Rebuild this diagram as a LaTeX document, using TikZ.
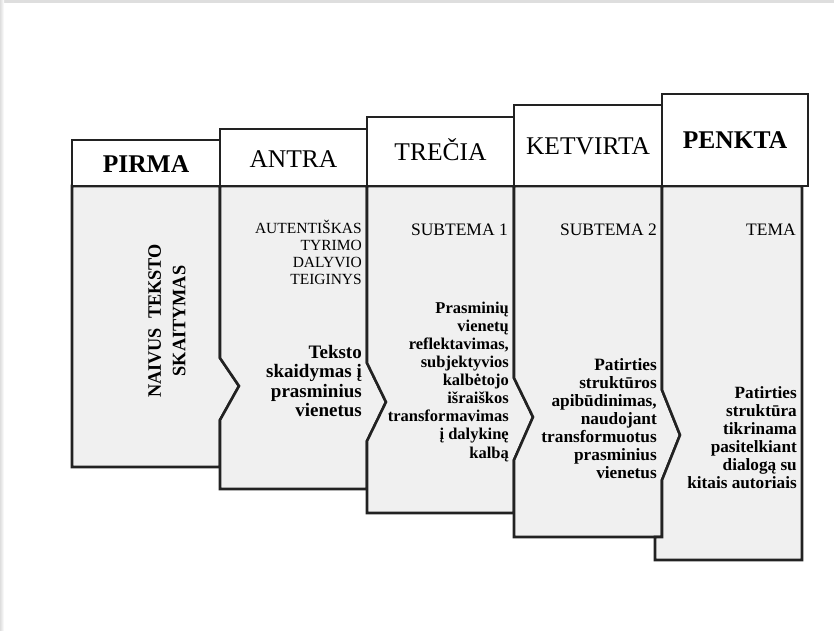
\documentclass[tikz,border=0pt]{standalone}
\usepackage{fontspec}
\usepackage{graphicx}
\setmainfont{Liberation Serif}
\definecolor{bodyfill}{RGB}{240,240,240}
\definecolor{edge}{RGB}{34,34,34}
\definecolor{frame}{RGB}{222,222,222}
\tikzset{
  colline/.style={draw=edge, line width=2.6pt, line join=miter},
  bodybox/.style={colline, fill=bodyfill},
  headbox/.style={colline, fill=white},
  headtext/.style={inner sep=0pt, anchor=base, font=\fontsize{25.5}{28}\selectfont},
  headbold/.style={headtext, font=\bfseries\fontsize{25.5}{28}\selectfont},
  captext/.style={inner sep=0pt, anchor=base east, align=right},
  boldtext/.style={inner sep=0pt, anchor=base east, align=right}
}
\begin{document}
\begin{tikzpicture}[x=1pt,y=-1pt]
\useasboundingbox (0,0) rectangle (834,630);
\fill[white] (0,0) rectangle (834,630);
\fill[frame] (0,0) rectangle (834,2.5);
\shade[left color=frame, right color=white] (0,0) rectangle (4,630);
% column bodies
\draw[bodybox] (72,186) -- (220,186) -- (220,358) -- (239,386) -- (220,420) -- (220,467) -- (72,467) -- cycle;
\draw[bodybox] (220,420) -- (239,386) -- (220,358) -- (220,186) -- (367,186) -- (367,363) -- (386,402) -- (367,441) -- (367,489) -- (220,489) -- cycle;
\draw[bodybox] (367,441) -- (386,402) -- (367,363) -- (367,186) -- (514,186) -- (514,378) -- (533,417) -- (514,460) -- (514,513) -- (367,513) -- cycle;
\draw[bodybox] (514,460) -- (533,417) -- (514,378) -- (514,186) -- (662,186) -- (662,390) -- (680,435) -- (662,480) -- (662,537) -- (514,537) -- cycle;
\draw[bodybox] (662,480) -- (680,435) -- (662,390) -- (662,186) -- (802,186) -- (802,560) -- (655,560) -- (655,537) -- (662,537) -- cycle;
% headers
\draw[headbox] (72,140) rectangle (220,186);
\draw[headbox] (220,129) rectangle (367,186);
\draw[headbox] (367,117) rectangle (514,186);
\draw[headbox] (514,105) rectangle (662,186);
\draw[headbox] (662,94) rectangle (808,186);
% header labels
\node[headbold] (h1) at (146,172) {PIRMA};
\node[headtext] (h2) at (293.5,167) {ANTRA};
\node[headtext] (h3) at (440.5,160) {TREČIA};
\node[headtext] (h4) at (588,154) {KETVIRTA};
\node[headbold] (h5) at (735,148) {PENKTA};
% column 1
\node[rotate=90, inner sep=0pt, align=center, font=\bfseries\fontsize{19}{24.5}\selectfont] (t1) at (167,321)
  {\scalebox{0.96}[1]{NAIVUS\ \ TEKSTO}\\\scalebox{0.96}[1]{SKAITYMAS}};
% column 2 (base anchor = last line)
\node[captext, font=\fontsize{15.5}{17}\selectfont] (c2) at (362,284) {AUTENTIŠKAS\\TYRIMO\\DALYVIO\\TEIGINYS};
\node[boldtext, font=\bfseries\fontsize{19}{19.5}\selectfont] (b2) at (362,416.5) {Teksto\\skaidymas į\\prasminius\\vienetus};
% column 3
\node[captext, font=\fontsize{17.5}{20}\selectfont] (c3) at (508,235) {SUBTEMA 1};
\node[boldtext, font=\bfseries\fontsize{16.5}{18.1}\selectfont] (b3) at (509,458) {Prasminių\\vienetų\\reflektavimas,\\subjektyvios\\kalbėtojo\\išraiškos\\transformavimas\\į dalykinę\\kalbą};
% column 4
\node[captext, font=\fontsize{17.5}{20}\selectfont] (c4) at (657,235) {SUBTEMA 2};
\node[boldtext, font=\bfseries\fontsize{17.3}{18}\selectfont] (b4) at (657,478) {Patirties\\struktūros\\apibūdinimas,\\naudojant\\transformuotus\\prasminius\\vienetus};
% column 5
\node[captext, font=\fontsize{17.5}{20}\selectfont] (c5) at (796,235) {TEMA};
\node[boldtext, font=\bfseries\fontsize{17.2}{18}\selectfont] (b5) at (797,488) {Patirties\\struktūra\\tikrinama\\pasitelkiant\\dialogą su\\kitais autoriais};
\end{tikzpicture}
\end{document}
